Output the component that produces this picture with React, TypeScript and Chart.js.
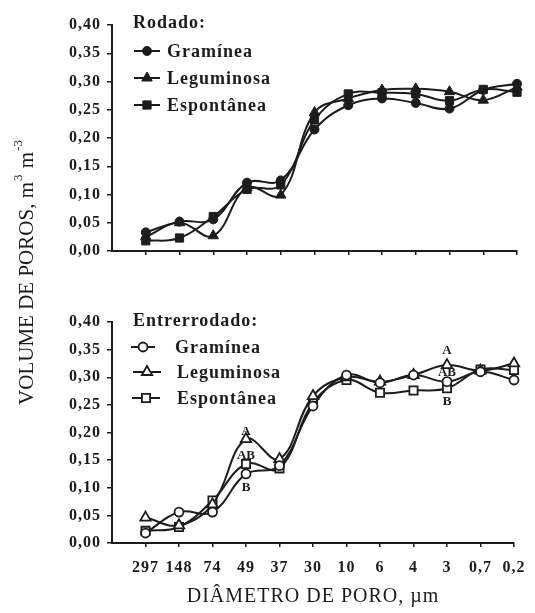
import React, { useEffect, useRef } from 'react';
import { Chart, registerables } from 'chart.js';
Chart.register(...registerables);

const categories = ['297', '148', '74', '49', '37', '30', '10', '6', '4', '3', '0,7', '0,2'];
const yTickValues = [0, 0.05, 0.1, 0.15, 0.2, 0.25, 0.3, 0.35, 0.4];

const rodadoGraminea = [0.033, 0.052, 0.056, 0.121, 0.125, 0.215, 0.258, 0.270, 0.262, 0.252, 0.285, 0.296];
const rodadoLeguminosa = [0.025, 0.050, 0.027, 0.112, 0.099, 0.245, 0.270, 0.285, 0.287, 0.282, 0.267, 0.290];
const rodadoEspontanea = [0.018, 0.023, 0.061, 0.109, 0.117, 0.232, 0.278, 0.280, 0.278, 0.266, 0.286, 0.281];

const entreGraminea = [0.018, 0.056, 0.056, 0.125, 0.140, 0.248, 0.304, 0.290, 0.304, 0.292, 0.310, 0.295];
const entreLeguminosa = [0.046, 0.032, 0.070, 0.188, 0.152, 0.266, 0.300, 0.292, 0.304, 0.322, 0.312, 0.325];
const entreEspontanea = [0.022, 0.029, 0.077, 0.143, 0.135, 0.254, 0.295, 0.272, 0.276, 0.280, 0.314, 0.313];

// significance letters: category index, anchor value, text
const letterCats = [3, 3, 3, 9, 9, 9];
const letterValues = [0.201, 0.159, 0.100, 0.349, 0.308, 0.256];
const letterTexts = ['A', 'AB', 'B', 'A', 'AB', 'B'];

const seriesNames = ['Gramínea', 'Leguminosa', 'Espontânea'];
const INK = '#1c1c1c';
const SERIF = '"Liberation Serif", "Times New Roman", serif';

type Marker = 'circle' | 'triangle' | 'rect';
const markers: Marker[] = ['circle', 'triangle', 'rect'];
const radii = [4.5, 6, 5.8];

function drawMarker(ctx: CanvasRenderingContext2D, style: Marker, x: number, y: number, r: number, filled: boolean) {
  ctx.save();
  ctx.beginPath();
  if (style === 'circle') {
    ctx.arc(x, y, r, 0, Math.PI * 2);
  } else if (style === 'triangle') {
    ctx.moveTo(x, y - r);
    ctx.lineTo(x + r * Math.sin(Math.PI / 3), y + r / 2);
    ctx.lineTo(x - r * Math.sin(Math.PI / 3), y + r / 2);
    ctx.closePath();
  } else {
    const s = Math.SQRT1_2 * r;
    ctx.rect(x - s, y - s, 2 * s, 2 * s);
  }
  ctx.fillStyle = filled ? INK : '#ffffff';
  ctx.fill();
  ctx.lineWidth = filled ? 1 : 1.8;
  ctx.strokeStyle = INK;
  ctx.stroke();
  ctx.restore();
}

function legendPlugin(id: string, title: string, filled: boolean, titlePos: [number, number], items: { y: number; x0: number; x1: number; tx: number }[]) {
  return {
    id,
    afterDraw(chart: any) {
      const ctx: CanvasRenderingContext2D = chart.ctx;
      ctx.save();
      (ctx as any).letterSpacing = '1px';
      ctx.fillStyle = INK;
      ctx.font = `bold 18px ${SERIF}`;
      ctx.textAlign = 'left';
      ctx.textBaseline = 'middle';
      ctx.fillText(title, titlePos[0], titlePos[1]);
      items.forEach((it, i) => {
        ctx.beginPath();
        ctx.moveTo(it.x0, it.y);
        ctx.lineTo(it.x1, it.y);
        ctx.lineWidth = 2;
        ctx.strokeStyle = INK;
        ctx.stroke();
        drawMarker(ctx, markers[i], (it.x0 + it.x1) / 2, it.y, radii[i], filled);
        ctx.fillStyle = INK;
        ctx.fillText(seriesNames[i], it.tx, it.y + 1);
      });
      ctx.restore();
    },
  };
}

const spacingPlugin = {
  id: 'spacing',
  beforeDraw(chart: any) {
    (chart.ctx as any).letterSpacing = '1px';
  },
};

const yTitlePlugin = {
  id: 'ytitle',
  afterDraw(chart: any) {
    const ctx: CanvasRenderingContext2D = chart.ctx;
    ctx.save();
    (ctx as any).letterSpacing = '0px';
    ctx.translate(27, 272);
    ctx.rotate(-Math.PI / 2);
    ctx.fillStyle = INK;
    ctx.textBaseline = 'middle';
    ctx.textAlign = 'left';
    const main = `21px ${SERIF}`;
    const sup = `13px ${SERIF}`;
    const parts: [string, boolean][] = [['VOLUME DE POROS, m', false], ['3', true], [' m', false], ['-3', true]];
    let total = 0;
    parts.forEach(([t, s]) => {
      ctx.font = s ? sup : main;
      total += ctx.measureText(t).width + (s ? 2 : 0);
    });
    let x = -total / 2;
    parts.forEach(([t, s]) => {
      ctx.font = s ? sup : main;
      if (s) x += 1;
      ctx.fillText(t, x, s ? -8 : 0);
      x += ctx.measureText(t).width + (s ? 1 : 0);
    });
    ctx.restore();
  },
};

const lettersPlugin = {
  id: 'letters',
  afterDatasetsDraw(chart: any) {
    const ctx: CanvasRenderingContext2D = chart.ctx;
    const xs = chart.scales.x;
    const ys = chart.scales.y;
    ctx.save();
    (ctx as any).letterSpacing = '0px';
    ctx.font = `bold 13px ${SERIF}`;
    ctx.fillStyle = INK;
    ctx.textAlign = 'center';
    ctx.textBaseline = 'middle';
    letterTexts.forEach((t, i) => {
      ctx.fillText(t, xs.getPixelForValue(letterCats[i] + 1), ys.getPixelForValue(letterValues[i]));
    });
    ctx.restore();
  },
};

function makeDatasets(series: number[][], filled: boolean) {
  return series.map((vals, i) => ({
    label: seriesNames[i],
    data: vals.map((v, j) => ({ x: j + 1, y: v })),
    borderColor: INK,
    borderWidth: 2,
    pointStyle: markers[i],
    pointRadius: radii[i],
    pointBackgroundColor: filled ? INK : '#ffffff',
    pointBorderColor: INK,
    pointBorderWidth: filled ? 1 : 1.8,
    tension: 0.4,
    clip: false as any,
  }));
}

function makeOptions(showXLabels: boolean, padding: any, xHeight: number) {
  return {
    responsive: false,
    animation: false as const,
    events: [],
    layout: { padding },
    plugins: { legend: { display: false }, tooltip: { enabled: false }, title: { display: false } },
    scales: {
      x: {
        type: 'linear' as const,
        min: 0,
        max: 12,
        afterBuildTicks: (s: any) => {
          s.ticks = categories.map((_, i) => ({ value: i + 1 }));
        },
        afterFit: (s: any) => {
          s.height = xHeight;
        },
        grid: { display: true, drawOnChartArea: false, drawTicks: true, tickLength: 4, color: INK, lineWidth: 1.5 },
        border: { display: true, color: INK, width: 2 },
        ticks: {
          display: showXLabels,
          autoSkip: false,
          maxRotation: 0,
          padding: 11,
          color: INK,
          font: { family: SERIF, size: 16, weight: 'bold' as const },
          callback: (v: any) => categories[Math.round(v) - 1] ?? '',
        },
        title: {
          display: showXLabels,
          text: 'DIÂMETRO DE PORO, µm',
          color: INK,
          font: { family: SERIF, size: 20, weight: 'normal' as const },
          padding: { top: 0, bottom: 4 },
        },
      },
      y: {
        min: 0,
        max: 0.4,
        afterBuildTicks: (s: any) => {
          s.ticks = yTickValues.map((v) => ({ value: v }));
        },
        afterFit: (s: any) => {
          s.width = 112;
        },
        grid: { display: true, drawOnChartArea: false, drawTicks: true, tickLength: 5, color: INK, lineWidth: 1.5 },
        border: { display: true, color: INK, width: 2 },
        ticks: {
          padding: 6,
          color: INK,
          font: { family: SERIF, size: 16, weight: 'bold' as const },
          callback: (v: any) => Number(v).toFixed(2).replace('.', ','),
        },
      },
    },
  };
}

export default function App() {
  const topRef = useRef<HTMLCanvasElement>(null);
  const botRef = useRef<HTMLCanvasElement>(null);

  useEffect(() => {
    const top = new Chart(topRef.current!, {
      type: 'line',
      data: { datasets: makeDatasets([rodadoGraminea, rodadoLeguminosa, rodadoEspontanea], true) as any },
      options: makeOptions(false, { top: 25, right: 18, bottom: 352, left: 0 }, 10) as any,
      plugins: [
        spacingPlugin,
        yTitlePlugin,
        legendPlugin('legTop', 'Rodado:', true, [133, 23], [
          { y: 51, x0: 134, x1: 160, tx: 167 },
          { y: 78, x0: 134, x1: 160, tx: 167 },
          { y: 105, x0: 134, x1: 160, tx: 167 },
        ]),
      ],
    });
    const bot = new Chart(botRef.current!, {
      type: 'line',
      data: { datasets: makeDatasets([entreGraminea, entreLeguminosa, entreEspontanea], false) as any },
      options: makeOptions(true, { top: 322, right: 18, bottom: 0, left: 0 }, 70) as any,
      plugins: [
        spacingPlugin,
        lettersPlugin,
        legendPlugin('legBot', 'Entrerrodado:', false, [133, 321], [
          { y: 347, x0: 131, x1: 155, tx: 175 },
          { y: 372, x0: 133, x1: 161, tx: 177 },
          { y: 398, x0: 132, x1: 160, tx: 177 },
        ]),
      ],
    });
    return () => {
      top.destroy();
      bot.destroy();
    };
  }, []);

  return (
    <div style={{ position: 'fixed', left: 0, top: 0, width: 535, height: 613, background: '#fff' }}>
      <canvas ref={topRef} width={535} height={613} style={{ position: 'absolute', left: 0, top: 0 }} />
      <canvas ref={botRef} width={535} height={613} style={{ position: 'absolute', left: 0, top: 0 }} />
    </div>
  );
}
